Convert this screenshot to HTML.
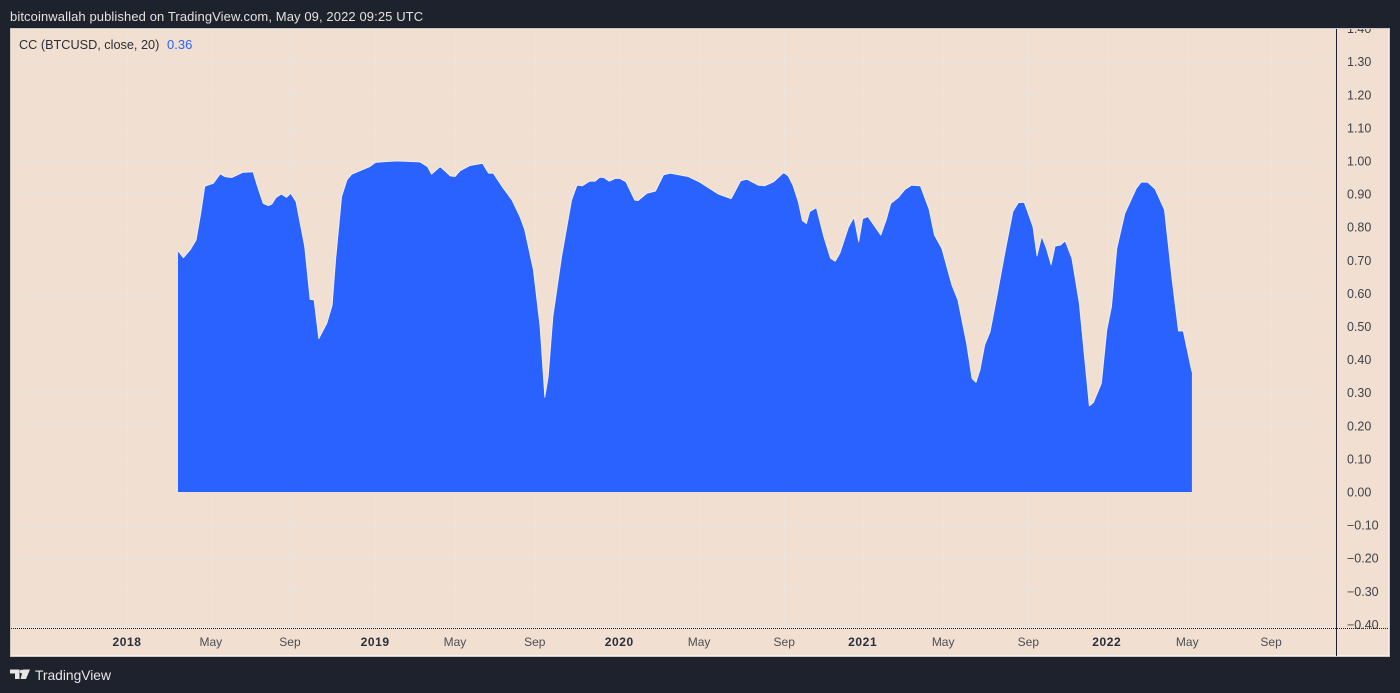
<!DOCTYPE html>
<html lang="en">
<head>
<meta charset="utf-8">
<title>CC (BTCUSD, close, 20)</title>
<style>
html,body{margin:0;padding:0;background:#1e222d;}
body{width:1400px;height:693px;overflow:hidden;position:relative;font-family:"Liberation Sans",sans-serif;}
svg{position:absolute;left:0;top:0;display:block;}
</style>
</head>
<body>
<svg id="chart" width="1400" height="693" viewBox="0 0 1400 693" font-family="'Liberation Sans',sans-serif">
  <defs>
    <clipPath id="panel-clip"><rect x="11" y="29" width="1378" height="627"></rect></clipPath>
  </defs>
  <rect x="0" y="0" width="1400" height="693" fill="#1e222d"></rect>
  <text x="10" y="21" font-size="13" letter-spacing="0.1" fill="#e4e2df">bitcoinwallah published on TradingView.com, May 09, 2022 09:25 UTC</text>
  <rect x="10.5" y="28.5" width="1379" height="628" fill="#f1e0d1" stroke="#cfc6be" stroke-width="1"></rect>
  <path d="M11.5 655.5H1388.5V29" fill="none" stroke="#f9f1e9" stroke-width="1"></path>
  <g id="grid"></g>
  <line x1="11" y1="627" x2="1336" y2="627" stroke="#ece5df" stroke-width="1.5"></line>
  <g id="series"></g>
  <g id="y-axis" clip-path="url(#panel-clip)"></g>
  <g id="x-axis"></g>
  <line x1="11" y1="628.5" x2="1389" y2="628.5" stroke="#1e222d" stroke-width="1" stroke-dasharray="1 1"></line>
  <line x1="1336.5" y1="29" x2="1336.5" y2="656" stroke="#1e222d" stroke-width="1"></line>
  <text x="19" y="49" font-size="12.7" fill="#2a2e39" xml:space="preserve">CC (BTCUSD, close, 20)</text>
  <text x="167" y="49" font-size="13" fill="#2962ff">0.36</text>
  <g>
    <path d="M10 669.5h9.5v9.5h-4.5v-5.5h-5z M23 669.5h7l-4 9.5h-5.5z" fill="#e8e6e3"></path>
    <circle cx="21.5" cy="671.5" r="1.8" fill="#e8e6e3"></circle>
    <text x="35" y="680" font-size="13.8" fill="#e8e6e3">TradingView</text>
  </g>
</svg>
<script>
// Series: days since the first sample, and CC value at that day.
var seriesDays = [0,8,18,27,34,40,53,63,70,80,97,112,118,127,135,140,146,154,162,168,176,189,197,203,210,222,230,235,244,252,259,271,286,295,326,361,372,378,391,406,413,421,435,454,463,470,485,498,510,517,530,540,547,552,559,572,587,595,603,614,622,629,635,643,652,659,668,681,686,699,712,724,734,761,778,806,825,839,848,865,875,888,903,910,917,925,931,937,942,952,963,973,980,987,1000,1008,1015,1021,1029,1048,1056,1063,1074,1084,1094,1107,1120,1128,1139,1154,1163,1176,1184,1190,1196,1203,1211,1221,1233,1245,1253,1262,1275,1281,1288,1295,1302,1308,1316,1323,1333,1344,1359,1365,1377,1385,1392,1400,1412,1429,1436,1446,1457,1471,1482,1492,1499,1512];
var seriesValues = [0.728,0.708,0.731,0.761,0.843,0.924,0.933,0.961,0.953,0.950,0.966,0.967,0.927,0.872,0.865,0.870,0.889,0.900,0.890,0.902,0.877,0.741,0.582,0.580,0.463,0.510,0.565,0.701,0.892,0.943,0.960,0.970,0.983,0.996,1.000,0.997,0.983,0.960,0.983,0.955,0.953,0.971,0.986,0.993,0.963,0.963,0.918,0.882,0.831,0.792,0.671,0.499,0.286,0.348,0.530,0.711,0.882,0.927,0.925,0.939,0.939,0.951,0.950,0.939,0.947,0.947,0.937,0.882,0.880,0.902,0.909,0.958,0.963,0.953,0.936,0.900,0.886,0.940,0.945,0.927,0.925,0.937,0.965,0.955,0.927,0.877,0.820,0.811,0.847,0.859,0.771,0.706,0.697,0.721,0.801,0.830,0.756,0.826,0.832,0.776,0.822,0.872,0.889,0.914,0.927,0.925,0.854,0.776,0.736,0.625,0.580,0.449,0.343,0.331,0.369,0.444,0.484,0.590,0.721,0.847,0.874,0.875,0.801,0.713,0.773,0.736,0.686,0.743,0.746,0.759,0.706,0.570,0.260,0.270,0.328,0.489,0.560,0.736,0.842,0.917,0.936,0.936,0.915,0.852,0.650,0.486,0.487,0.363];
var yTickValues = [1.40,1.30,1.20,1.10,1.00,0.90,0.80,0.70,0.60,0.50,0.40,0.30,0.20,0.10,0.00,-0.10,-0.20,-0.30,-0.40];
var xTickLabels = ["2018","May","Sep","2019","May","Sep","2020","May","Sep","2021","May","Sep","2022","May","Sep"];
var xTickDays = [-76,49,167,294,413,532,658,777,904,1021,1141,1268,1385,1505,1630];

var NS = "http://www.w3.org/2000/svg";
function xScale(day){ return 178 + day * 0.6706; }
function yScale(v){ return 492 - v * 331; }
function make(tag, attrs, parent){
  var el = document.createElementNS(NS, tag);
  for (var k in attrs) el.setAttribute(k, attrs[k]);
  parent.appendChild(el);
  return el;
}
var grid = document.getElementById("grid");
var yAxis = document.getElementById("y-axis");
var xAxis = document.getElementById("x-axis");
var series = document.getElementById("series");

yTickValues.forEach(function(v){
  var y = Math.round(yScale(v)) + 0.5;
  var line = make("line", {x1:11, x2:1336, y1:y, y2:y, stroke:"#eae2dc", "stroke-width":1}, grid);
  
  
  var text = make("text", {x:1347, y:yScale(v) + 4.5, "font-size":12.5, fill:"#3f424b"}, yAxis);
  
  
  text.textContent = v.toFixed(2).replace("-", "\u2212");
});

xTickDays.forEach(function(day, i){
  var x = Math.round(xScale(day)) + 0.5;
  var line = make("line", {x1:x, x2:x, y1:29, y2:627, stroke:"#ebe3dd", "stroke-width":1}, grid);
  
  
  var isYear = /^\d+$/.test(xTickLabels[i]);
  var text = make("text", {x:xScale(day), y:646, "font-size":12, "text-anchor":"middle", "letter-spacing":isYear ? 0.6 : 0, "font-weight":isYear ? "bold" : "normal", fill:isYear ? "#2a2e39" : "#4c4e55"}, xAxis);
  
  
  text.textContent = xTickLabels[i];
});

var top_ = seriesDays.map(function(d, i){ return xScale(d).toFixed(1) + "," + yScale(seriesValues[i]).toFixed(1); });
var areaD = "M" + xScale(seriesDays[0]).toFixed(1) + "," + yScale(0) + " L" + top_.join(" L") + " L" + xScale(seriesDays[seriesDays.length - 1]).toFixed(1) + "," + yScale(0) + " Z";
var area = make("path", {d:areaD, fill:"#2962ff"}, series);


var edge = make("path", {d:"M" + top_.join(" L"), fill:"none", stroke:"#f7f3ee", "stroke-width":0.8, "stroke-linejoin":"round"}, series);


</script>
</body>
</html>
